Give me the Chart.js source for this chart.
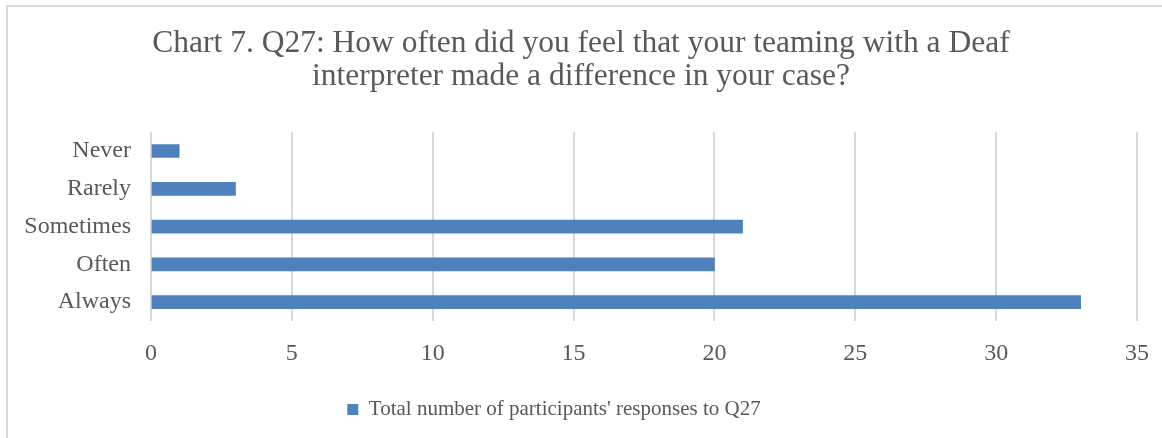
<!DOCTYPE html>
<html>
<head>
<meta charset="utf-8">
<script src="https://cdn.jsdelivr.net/npm/chart.js@4"></script>
<style>
    body { margin: 0; background: #fff; }
    #wrap { position: relative; width: 1162px; height: 438px; overflow: hidden; }
    #frame { position: absolute; left: 6px; top: 5px; width: 1200px; height: 500px;
             border-top: 2px solid #d9d9d9; border-left: 2px solid #d9d9d9; }
    canvas { position: absolute; left: 0; top: 0; }
</style>
</head>
<body>
<div id="wrap">
    <div id="frame"></div>
    <canvas id="chart7" width="1162" height="438"></canvas>
</div>
<script>
// Q27: how often the Deaf interpreter made a difference
const categories = ['Never', 'Rarely', 'Sometimes', 'Often', 'Always'];
const responses = [1, 3, 21, 20, 33];
const seriesLabel = "Total number of participants' responses to Q27";
const titleLines = ['Chart 7. Q27: How often did you feel that your teaming with a Deaf',
                    'interpreter made a difference in your case?'];

const textColor = '#595959';
const serif = "'Liberation Serif', 'Times New Roman', serif";

// nudge the legend left, the original one is centred on a wider frame
const legendShift = {
    id: 'legendShift',
    afterLayout(chart) {
        chart.legend.left -= 27;
        chart.legend.right -= 27;
    }
};

const ctx = document.getElementById('chart7').getContext('2d');
const chart7 = new Chart(ctx, {
    type: 'bar',
    data: {
        labels: categories,
        datasets: [{
            label: seriesLabel,
            data: responses,
            backgroundColor: '#4f81bd',
            barThickness: 13,
        }]
    },
    options: {
        indexAxis: 'y',
        responsive: false,
        animation: false,
        layout: { padding: { left: 25, right: 25, top: 0, bottom: 8 } },
        plugins: {
            title: {
                display: true,
                text: titleLines,
                color: textColor,
                font: { family: serif, size: 31.5, weight: 'normal', lineHeight: 1.05 },
                padding: { top: 27, bottom: 39 }
            },
            legend: {
                position: 'bottom',
                labels: {
                    color: textColor,
                    font: { family: serif, size: 21 },
                    boxWidth: 11,
                    boxHeight: 11,
                    padding: 10
                }
            },
            tooltip: { enabled: false }
        },
        scales: {
            x: {
                min: 0,
                max: 35,
                ticks: { stepSize: 5, color: textColor, padding: 18, font: { family: serif, size: 24 } },
                grid: { color: '#d9d9d9', lineWidth: 2, drawTicks: false },
                border: { display: false },
                afterFit(scale) {
                    scale.height = 68;
                    scale.paddingLeft = 0;
                    scale.paddingRight = 0;
                }
            },
            y: {
                ticks: { color: textColor, padding: 20, font: { family: serif, size: 24 } },
                grid: { display: false, drawTicks: false },
                border: { display: false },
                afterFit(scale) { scale.width = 126; }
            }
        }
    },
    plugins: [legendShift]
});
</script>
</body>
</html>
